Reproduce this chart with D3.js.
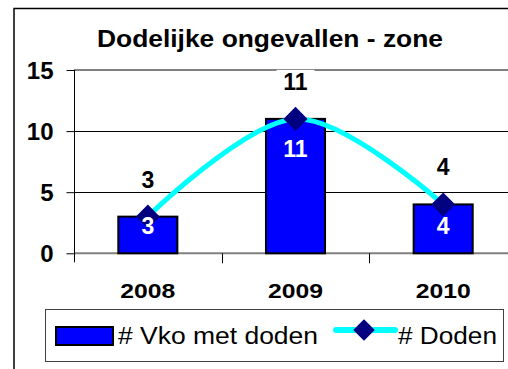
<!DOCTYPE html>
<html>
<head>
<meta charset="utf-8">
<script src="https://cdn.jsdelivr.net/npm/d3@7"></script>
<style>
  html, body { margin: 0; padding: 0; background: #fff; }
  svg { display: block; font-family: "Liberation Sans", Arial, sans-serif; }
</style>
</head>
<body>
<svg id="chart" width="508" height="369"></svg>
<script>
// Chart data
const years = ["2008", "2009", "2010"];
const vkoMetDoden = [3, 11, 4];   // bars: accidents with fatalities
const doden = [3, 11, 4];         // line: number of deaths
const yTicks = [0, 5, 10, 15];
const chartTitle = "Dodelijke ongevallen - zone";
const seriesNames = ["# Vko met doden", "# Doden"];

// Layout
const W = 508, H = 369;
const plot = { left: 74, right: 517, top: 70, bottom: 253.3 };
// vertical offset of the white in-bar labels (px below bar top)
const barLabelDy = [17, 38, 30];

const svg = d3.select("#chart");

// Outer chart frame (runs off the right and bottom edge)
svg.append("rect")
  .attr("x", 14).attr("y", 8.5)
  .attr("width", 600).attr("height", 500)
  .attr("fill", "#fff").attr("stroke", "#000").attr("stroke-width", 1.5);

const x = d3.scaleBand().domain(years).range([plot.left, plot.right]).paddingInner(0).paddingOuter(0);
const y = d3.scaleLinear().domain([0, 15]).range([plot.bottom, plot.top]);
const barW = x.bandwidth() * 0.4;
const cx = d => x(d) + x.bandwidth() / 2;

// Title
svg.append("text")
  .attr("x", 270).attr("y", 47)
  .attr("text-anchor", "middle")
  .attr("font-weight", "bold").attr("font-size", 23)
  .attr("textLength", 346).attr("lengthAdjust", "spacingAndGlyphs")
  .text(chartTitle);

// Gridlines
svg.append("g").selectAll("line")
  .data(yTicks.filter(t => t > 0 && t < 15))
  .join("line")
  .attr("x1", plot.left).attr("x2", plot.right)
  .attr("y1", d => Math.round(y(d)) + 0.5).attr("y2", d => Math.round(y(d)) + 0.5)
  .attr("stroke", "#000").attr("stroke-width", 1);

// Plot area border (top and bottom edges)
svg.append("line")
  .attr("x1", plot.left).attr("x2", plot.right)
  .attr("y1", y(15)).attr("y2", y(15))
  .attr("stroke", "#808080").attr("stroke-width", 2);
svg.append("line")
  .attr("x1", plot.left).attr("x2", plot.right)
  .attr("y1", y(0)).attr("y2", y(0))
  .attr("stroke", "#808080").attr("stroke-width", 2);

// Y axis
const yAxis = d3.axisLeft(y).tickValues(yTicks).tickSize(8).tickPadding(13).tickFormat(d3.format("d"));
const gy = svg.append("g").attr("transform", `translate(${plot.left + 0.5},0)`).call(yAxis);
gy.select(".domain").remove();
gy.append("line").attr("x1", 0).attr("x2", 0).attr("y1", y(15)).attr("y2", y(0) + 9).attr("stroke", "#000");
gy.selectAll(".tick line").attr("stroke", "#000");
gy.selectAll(".tick text")
  .attr("font-size", 24).attr("font-weight", "bold").attr("fill", "#000")
  .attr("font-family", "Liberation Sans, Arial, sans-serif")
  .attr("dy", "0.36em");

// X axis: ticks at category boundaries, labels centred below
const gx = svg.append("g");
gx.selectAll("line.sep")
  .data(years.slice(1))
  .join("line").attr("class", "sep")
  .attr("x1", d => Math.round(x(d)) + 0.5).attr("x2", d => Math.round(x(d)) + 0.5)
  .attr("y1", y(0)).attr("y2", y(0) + 10)
  .attr("stroke", "#000");
gx.selectAll("text")
  .data(years)
  .join("text")
  .attr("x", d => cx(d)).attr("y", 298)
  .attr("text-anchor", "middle")
  .attr("font-size", 21).attr("font-weight", "bold")
  .attr("textLength", 55).attr("lengthAdjust", "spacingAndGlyphs")
  .text(d => d);

// Bars
svg.append("g").selectAll("rect")
  .data(years)
  .join("rect")
  .attr("x", d => cx(d) - barW / 2)
  .attr("y", (d, i) => y(vkoMetDoden[i]))
  .attr("width", barW)
  .attr("height", (d, i) => y(0) - y(vkoMetDoden[i]))
  .attr("fill", "#0000FF").attr("stroke", "#000").attr("stroke-width", 2);

// Smoothed line
const pts = years.map((d, i) => [cx(d), y(doden[i])]);
svg.append("path")
  .attr("d", d3.line().curve(d3.curveCatmullRom.alpha(0))(pts))
  .attr("fill", "none").attr("stroke", "#00FFFF").attr("stroke-width", 5)
  .attr("stroke-linejoin", "round");

// Diamond markers
const diamond = d3.symbol().type(d3.symbolSquare).size(290);
svg.append("g").selectAll("path")
  .data(pts)
  .join("path")
  .attr("d", diamond)
  .attr("transform", p => `translate(${p[0]},${p[1]}) rotate(45)`)
  .attr("fill", "#000080");

// White value labels inside the bars
svg.append("g").selectAll("text")
  .data(years)
  .join("text")
  .attr("x", d => cx(d))
  .attr("y", (d, i) => y(vkoMetDoden[i]) + barLabelDy[i])
  .attr("text-anchor", "middle")
  .attr("font-size", 23).attr("font-weight", "bold").attr("fill", "#fff")
  .text((d, i) => vkoMetDoden[i]);

// Black value labels above the line points, on white boxes
const lbl = svg.append("g").selectAll("g")
  .data(years)
  .join("g")
  .attr("transform", (d, i) => `translate(${cx(d)},${y(doden[i]) - 29})`);
lbl.append("rect")
  .attr("x", (d, i) => String(doden[i]).length > 1 ? -19 : -11)
  .attr("y", -20)
  .attr("width", (d, i) => String(doden[i]).length > 1 ? 38 : 22)
  .attr("height", 24)
  .attr("fill", "#fff");
lbl.append("text")
  .attr("text-anchor", "middle")
  .attr("font-size", 23).attr("font-weight", "bold").attr("fill", "#000")
  .text((d, i) => doden[i]);

// Legend
const lg = svg.append("g");
lg.append("rect")
  .attr("x", 45.5).attr("y", 309.5).attr("width", 458).attr("height", 52)
  .attr("fill", "#fff").attr("stroke", "#404040").attr("stroke-width", 1);
lg.append("rect")
  .attr("x", 56).attr("y", 327).attr("width", 57).attr("height", 18)
  .attr("fill", "#0000FF").attr("stroke", "#000").attr("stroke-width", 2);
lg.append("text")
  .attr("x", 118).attr("y", 343.5)
  .attr("font-size", 23)
  .attr("textLength", 200).attr("lengthAdjust", "spacingAndGlyphs")
  .text(seriesNames[0]);
lg.append("line")
  .attr("x1", 336).attr("x2", 395).attr("y1", 330).attr("y2", 330)
  .attr("stroke", "#00FFFF").attr("stroke-width", 6).attr("stroke-linecap", "round");
lg.append("path")
  .attr("d", d3.symbol().type(d3.symbolSquare).size(230))
  .attr("transform", "translate(364,330) rotate(45)")
  .attr("fill", "#000080");
lg.append("text")
  .attr("x", 398).attr("y", 343.5)
  .attr("font-size", 23)
  .attr("textLength", 99).attr("lengthAdjust", "spacingAndGlyphs")
  .text(seriesNames[1]);
</script>
</body>
</html>
